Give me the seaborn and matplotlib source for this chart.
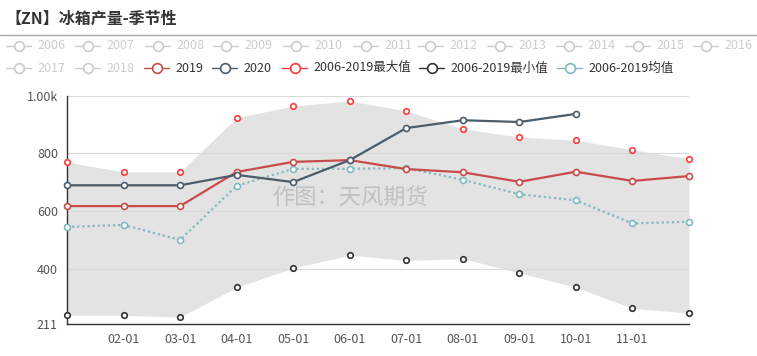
import numpy as np
import pandas as pd
import matplotlib
matplotlib.use("Agg")
import matplotlib.pyplot as plt
import seaborn as sns
from matplotlib.lines import Line2D

# data
months = ["01-01", "02-01", "03-01", "04-01", "05-01", "06-01",
          "07-01", "08-01", "09-01", "10-01", "11-01", "12-01"]
val_2019 = [618, 618, 618, 736, 771, 777, 746, 735, 702, 737, 705, 722]
val_2020 = [690, 690, 690, 726, 701, 777, 888, 915, 909, 937, np.nan, np.nan]
val_max = [770, 736, 736, 924, 964, 982, 947, 885, 857, 846, 813, 782]
val_min = [240, 240, 234, 337, 404, 448, 430, 436, 387, 337, 264, 248]
val_mean = [546, 553, 501, 688, 747, 747, 749, 709, 659, 638, 558, 564]

y_ticks = [211, 400, 600, 800, 1000]
y_ticklabels = ["211", "400", "600", "800", "1.00k"]

legend_row1 = ["2006", "2007", "2008", "2009", "2010", "2011",
               "2012", "2013", "2014", "2015", "2016"]
legend_row2 = ["2017", "2018", "2019", "2020",
               "2006-2019最大值", "2006-2019最小值", "2006-2019均值"]

title = "【ZN】冰箱产量-季节性"
watermark = "作图：天风期货"

c_2019 = "#c84b4b"
c_2020 = "#4b5c6b"
c_max = "#ff3b3b"
c_min = "#333333"
c_mean = "#80b9be"
c_off = "#cccccc"

df = pd.DataFrame({
    "month": months,
    "x": range(len(months)),
    "2019": val_2019,
    "2020": val_2020,
    "max": val_max,
    "min": val_min,
    "mean": val_mean,
})

sns.set_style("white")
plt.rcParams["font.family"] = ["Noto Sans CJK SC", "DejaVu Sans"]

W, H = 757, 356
fig = plt.figure(figsize=(W / 100, H / 100), dpi=100)


def fx(px):
    return px / W


def fy(py):
    return 1 - py / H


ax = fig.add_axes([fx(67), fy(323.7), fx(689) - fx(67), fy(95.7) - fy(323.7)])

# band between min and max
ax.fill_between(df["x"], df["min"], df["max"], color="#e3e3e3", lw=0, zorder=0.3)

line_kw = dict(lw=1.6, marker="o", ms=4.3, mfc="white", mew=1.2, clip_on=False)
sns.lineplot(data=df, x="x", y="mean", ax=ax, color=c_mean, mec=c_mean,
             linestyle=(0, (1, 1.3)), zorder=3, **line_kw)
sns.lineplot(data=df, x="x", y="2019", ax=ax, color=c_2019, mec=c_2019,
             zorder=4, **line_kw)
sns.lineplot(data=df.dropna(subset=["2020"]), x="x", y="2020", ax=ax,
             color=c_2020, mec=c_2020, zorder=5, **line_kw)
sns.scatterplot(data=df, x="x", y="max", ax=ax, s=16, facecolor="white",
                edgecolor=c_max, linewidth=1.2, zorder=6, clip_on=False)
sns.scatterplot(data=df, x="x", y="min", ax=ax, s=16, facecolor="white",
                edgecolor=c_min, linewidth=1.2, zorder=6, clip_on=False)

ax.set_xlim(0, len(months) - 1)
ax.set_ylim(y_ticks[0], y_ticks[-1])
ax.set_xticks(range(1, len(months) - 1))
ax.set_xticklabels(months[1:-1])
ax.set_yticks(y_ticks)
ax.set_yticklabels(y_ticklabels)
ax.set_xlabel("")
ax.set_ylabel("")
ax.set_axisbelow(True)
ax.grid(axis="y", color="#d9d9d9", lw=0.8)
ax.grid(axis="x", visible=False)
sns.despine(ax=ax)
for side in ["left", "bottom"]:
    ax.spines[side].set_color("#333333")
    ax.spines[side].set_linewidth(1.0)
ax.tick_params(axis="both", direction="out", length=3.5, width=0.8,
               color="#333333", labelcolor="#555555", labelsize=9, pad=3)

# watermark
fig.text(fx(350), fy(198), watermark, ha="center", va="center",
         fontsize=16, color="#c0c0c0", zorder=10)

# title and separator
fig.text(fx(5), fy(19), title, ha="left", va="center", fontsize=11.5,
         fontweight="bold", color="#333333")
fig.add_artist(Line2D([0, 1], [fy(35), fy(35)], transform=fig.transFigure,
                      color="#aaaaaa", lw=1.0))

# hand-drawn legend in two rows
row1_x = [6, 75, 145, 213, 283, 353, 418, 487, 556, 625, 693]
row2_x = [6, 75, 144, 212, 282, 419, 557]
row2_colors = [c_off, c_off, c_2019, c_2020, c_max, c_min, c_mean]
row2_text = [c_off, c_off, "#333333", "#333333", "#333333", "#333333", "#333333"]


def legend_item(px, py, label, color, tcolor):
    fig.add_artist(Line2D([fx(px), fx(px + 25)], [fy(py), fy(py)],
                          transform=fig.transFigure, color=color, lw=1.0))
    fig.add_artist(Line2D([fx(px + 12.5)], [fy(py)], transform=fig.transFigure,
                          marker="o", ms=7, mfc="white", mec=color, mew=1.2,
                          linestyle="none"))
    fig.text(fx(px + 31), fy(py), label, ha="left", va="center",
             fontsize=9, color=tcolor)


for px, label in zip(row1_x, legend_row1):
    legend_item(px, 45.5, label, c_off, c_off)
for px, label, col, tcol in zip(row2_x, legend_row2, row2_colors, row2_text):
    legend_item(px, 68, label, col, tcol)

fig.savefig("out.png", dpi=100)
